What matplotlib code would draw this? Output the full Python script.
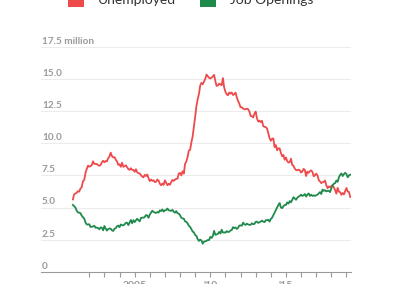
import numpy as np
import matplotlib
matplotlib.use('Agg')
import matplotlib.pyplot as plt
from matplotlib.patches import Rectangle
from matplotlib.transforms import offset_copy

# ---- data (millions, monthly from Dec 2000) ----
start_year, start_month = 2000, 12

unemployed = [
    5.63,
    6.02, 6.09, 6.14, 6.27, 6.23, 6.48, 6.58, 7.04, 7.14, 7.69, 8.00, 8.26,
    8.18, 8.22, 8.30, 8.60, 8.40, 8.39, 8.39, 8.30, 8.25, 8.31, 8.52, 8.64,
    8.52, 8.62, 8.59, 8.84, 8.96, 9.27, 9.01, 8.90, 8.92, 8.73, 8.58, 8.32,
    8.37, 8.17, 8.49, 8.17, 8.21, 8.29, 8.14, 7.99, 7.93, 8.06, 7.93, 7.93,
    7.78, 7.98, 7.74, 7.67, 7.65, 7.52, 7.41, 7.35, 7.55, 7.45, 7.57, 7.28,
    7.06, 7.18, 7.07, 7.12, 6.98, 7.00, 7.18, 7.09, 6.85, 6.73, 6.87, 6.76,
    7.12, 6.93, 6.73, 6.85, 6.77, 6.98, 7.15, 7.07, 7.17, 7.24, 7.24, 7.65,
    7.69, 7.50, 7.82, 7.64, 8.40, 8.58, 8.94, 9.44, 9.49, 10.07, 10.54, 11.29,
    12.06, 12.90, 13.43, 13.85, 14.50, 14.71, 14.60, 14.81, 15.01, 15.35, 15.22, 15.10,
    15.05, 15.11, 15.20, 15.33, 14.85, 14.47, 14.51, 14.65, 14.58, 14.52, 15.08, 14.35,
    14.01, 13.82, 13.74, 13.96, 13.86, 13.96, 13.76, 13.82, 13.95, 13.59, 13.30, 13.09,
    12.80, 12.81, 12.71, 12.65, 12.66, 12.69, 12.66, 12.47, 12.12, 12.12, 12.01, 12.30,
    12.47, 11.95, 11.69, 11.76, 11.65, 11.75, 11.34, 11.28, 11.27, 11.14, 10.79, 10.40,
    10.20, 10.35, 10.38, 9.70, 9.86, 9.46, 9.61, 9.60, 9.26, 8.99, 9.09, 8.72,
    8.90, 8.61, 8.50, 8.53, 8.80, 8.31, 8.25, 8.03, 7.92, 7.90, 7.95, 7.90,
    7.72, 7.81, 8.01, 7.91, 7.45, 7.79, 7.70, 7.83, 7.89, 7.77, 7.43, 7.51,
    7.64, 7.51, 7.14, 7.03, 6.90, 6.97, 6.99, 7.10, 6.75, 6.50, 6.64, 6.58,
    6.67, 6.72, 6.56, 6.35, 6.08, 6.53, 6.24, 6.19, 5.99, 6.13, 6.02, 6.29,
    6.52, 6.24, 6.21, 5.82,
]

job_openings = [
    5.20,
    5.10, 5.00, 4.76, 4.62, 4.60, 4.56, 4.37, 4.24, 4.14, 3.84, 3.68, 3.67,
    3.70, 3.48, 3.50, 3.53, 3.58, 3.42, 3.44, 3.39, 3.31, 3.45, 3.42, 3.22,
    3.56, 3.36, 3.20, 3.32, 3.36, 3.35, 3.22, 3.17, 3.35, 3.39, 3.54, 3.59,
    3.47, 3.68, 3.62, 3.61, 3.68, 3.81, 3.81, 3.63, 3.83, 4.03, 3.77, 4.01,
    3.86, 4.00, 4.12, 4.01, 3.92, 4.19, 4.21, 4.21, 4.25, 4.41, 4.38, 4.20,
    4.45, 4.60, 4.75, 4.66, 4.60, 4.58, 4.65, 4.60, 4.78, 4.72, 4.85, 4.68,
    4.78, 4.80, 4.92, 4.78, 4.76, 4.74, 4.82, 4.66, 4.60, 4.72, 4.55, 4.52,
    4.40, 4.20, 4.15, 4.13, 3.92, 3.88, 3.77, 3.58, 3.49, 3.32, 3.13, 3.06,
    2.86, 2.79, 2.53, 2.40, 2.50, 2.43, 2.18, 2.35, 2.36, 2.40, 2.47, 2.46,
    2.72, 2.63, 2.77, 3.18, 2.87, 2.90, 2.95, 3.10, 2.97, 3.27, 3.05, 3.06,
    3.04, 3.16, 3.09, 3.11, 3.21, 3.24, 3.47, 3.39, 3.45, 3.33, 3.41, 3.59,
    3.61, 3.58, 3.82, 3.69, 3.65, 3.74, 3.68, 3.65, 3.65, 3.77, 3.70, 3.72,
    3.88, 3.90, 3.80, 3.85, 3.90, 3.98, 3.90, 3.86, 4.01, 4.01, 4.05, 3.90,
    4.11, 4.20, 4.40, 4.60, 4.80, 5.00, 5.20, 5.35, 5.00, 4.95, 5.10, 5.20,
    5.20, 5.40, 5.30, 5.50, 5.40, 5.60, 5.80, 5.70, 5.60, 5.75, 5.85, 5.90,
    6.00, 5.90, 5.95, 6.05, 5.85, 6.00, 6.10, 5.90, 6.00, 5.90, 5.95, 5.90,
    5.95, 6.00, 6.10, 6.20, 6.05, 6.40, 6.30, 6.35, 6.25, 6.30, 6.30, 6.20,
    6.50, 6.75, 6.85, 6.90, 7.10, 7.00, 7.35, 7.55, 7.65, 7.45, 7.60, 7.70,
    7.60, 7.35, 7.50, 7.55,
]

series_names = ['Unemployed', 'Job Openings']
series_colors = ['#ee4a4c', '#1f8a4c']

y_ticks = [0, 2.5, 5.0, 7.5, 10.0, 12.5, 15.0, 17.5]
y_labels = ['0', '2.5', '5.0', '7.5', '10.0', '12.5', '15.0', '17.5 million']
x_ticks = list(range(2002, 2020))
x_label_map = {2005: '2005', 2010: "'10", 2015: "'15"}

# ---- figure ----
W, H = 400, 284
fig = plt.figure(figsize=(W / 100, H / 100), dpi=100)
fig.patch.set_facecolor('white')

ax_left, ax_right = 41, 351
ax_top, ax_bottom = 47, 271.7
ax = fig.add_axes([ax_left / W, (H - ax_bottom) / H,
                   (ax_right - ax_left) / W, (ax_bottom - ax_top) / H])
ax.set_facecolor('white')

x0, x1 = 1998.81, 2019.30
ax.set_xlim(x0, x1)
ax.set_ylim(0, 17.5)

n = len(unemployed)
t = start_year + (start_month - 1) / 12 + np.arange(n) / 12.0

for yt in y_ticks[1:]:
    ax.axhline(yt, color='#ececec', lw=0.8, zorder=0)

ax.plot(t, unemployed, color=series_colors[0], lw=1.3, zorder=3)
ax.plot(t, job_openings[:len(t)], color=series_colors[1], lw=1.3, zorder=3)

for s in ['top', 'right', 'left']:
    ax.spines[s].set_visible(False)
ax.spines['bottom'].set_color('#9a9a9a')
ax.spines['bottom'].set_linewidth(0.8)

ax.set_yticks([])
ax.set_xticks(x_ticks)
ax.set_xticklabels([x_label_map.get(y, '') for y in x_ticks])
ax.tick_params(axis='x', length=3.4, width=0.8, color='#9a9a9a',
               pad=3.6, labelsize=7.5, labelcolor='#999999')
for lbl in ax.get_xticklabels():
    lbl.set_fontfamily('Lato')
    lbl.set_fontweight('bold')

trans = offset_copy(ax.transData, fig=fig, x=1.0, y=3.0, units='dots')
for yt, lab in zip(y_ticks, y_labels):
    ax.text(x0, yt, lab, transform=trans, ha='left', va='baseline',
            fontsize=7.2, color='#9a9a9a', fontfamily='Lato',
            fontweight='bold', clip_on=False)

# ---- legend (top, partly cut off) ----
legend_x = [(68, 98), (200, 230)]
for (sx, tx), name, col in zip(legend_x, series_names, series_colors):
    fig.patches.append(Rectangle((sx / W, (H - 7) / H), 16 / W, 16 / H,
                                 transform=fig.transFigure, facecolor=col,
                                 edgecolor='none'))
    fig.text(tx / W, (H - 4) / H, name, ha='left', va='baseline',
             fontsize=10, color='#333333', fontfamily='Lato')

fig.savefig('out.png', dpi=100, facecolor='white')
